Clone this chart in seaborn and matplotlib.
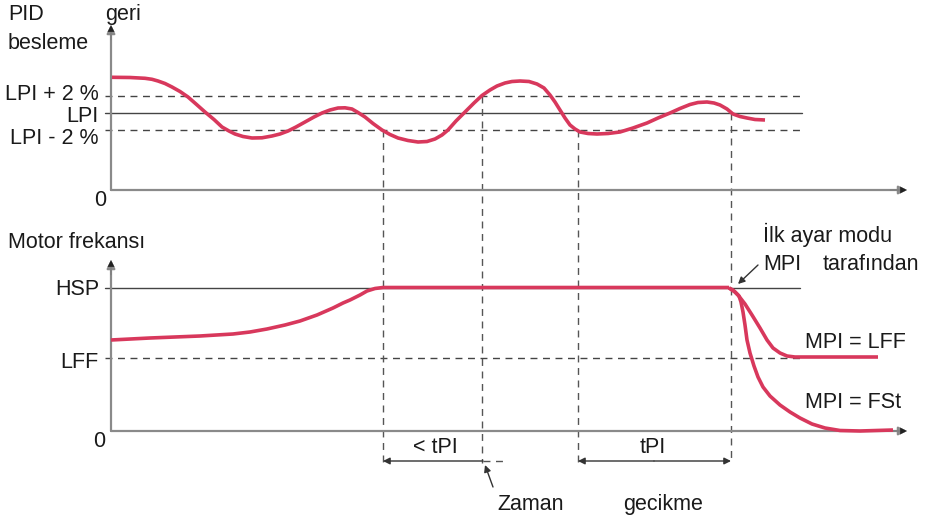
import matplotlib
matplotlib.use("Agg")
import matplotlib.pyplot as plt
import seaborn as sns
import pandas as pd

# ---- data (diagram units: x = time, y = level, figure-pixel scale) ----
top_t = [112, 130, 145, 152, 158, 165, 172, 180, 188, 196, 205, 214, 222, 229, 235, 243, 252, 262,
         272, 280, 288, 296, 305, 314, 322, 330, 338, 345, 352, 358, 365, 373, 382, 390, 398, 408,
         418, 427, 435, 442, 448, 456, 465, 474, 482, 490, 497, 505, 512, 520, 529, 537, 544, 550,
         555, 560, 565, 570, 575, 580, 588, 597, 608, 620, 633, 647, 658, 670, 680, 690, 698, 707,
         714, 720, 727, 733, 740, 747, 755, 765]
top_v = [77.3, 77.5, 78.3, 79.3, 81, 83.5, 87, 91.5, 97, 104, 112, 119.5, 127, 131, 134, 136.5, 138, 137.8,
         136, 134, 131, 127, 122, 117, 113, 110, 108, 107.8, 109, 112.5, 117, 123.5, 130, 134.5, 138, 140.5,
         142, 141.5, 139, 135, 130, 121, 112, 103, 95.5, 90, 86, 83, 81.5, 81, 81.5, 84, 88, 95,
         102, 110, 118, 125, 129, 132, 133.5, 134, 133.5, 132, 128, 123, 118, 113, 108.5, 104.5, 102.5, 102,
         103, 105, 109, 114, 116.5, 118, 119.5, 120]

motor_t = [111, 150, 200, 233, 250, 267, 285, 300, 317, 333, 343, 350, 360, 367, 375, 383, 400, 729]
motor_v = [340, 338, 336, 334, 332, 329, 325, 321, 315, 308, 303, 300, 295, 291, 288.5, 287.5, 287.5, 287.5]

lff_t = [729, 733, 738, 745, 752, 760, 767, 773, 780, 787, 795, 810, 878]
lff_v = [288, 290, 295, 304, 315, 328, 340, 348, 353, 356, 357, 357, 357]

fst_t = [729, 735, 739, 741, 743, 745, 747, 750, 754, 758, 763, 770, 780, 790, 800, 812, 825, 840, 860, 893]
fst_v = [288, 292, 296, 302, 312, 325, 340, 353, 366, 377, 387, 396, 405, 412, 418, 424, 428, 430.5, 431, 430]

top_level_names = ["LPI + 2 %", "LPI", "LPI - 2 %"]
top_level_vals = [96, 113, 130]
top_label_base = [100, 122, 144]
bottom_level_names = ["HSP", "LFF"]
bottom_level_vals = [288, 358]
event_t = [383, 482, 578, 731]
event_top = [130, 96, 130, 113]

RED = "#d8385c"
AX = "#8a8a8a"
LV = "#444444"
TXT = "#1a1a1a"

sns.set_theme(style="white")
plt.rcParams["font.family"] = ["Liberation Sans", "DejaVu Sans"]

fig = plt.figure(figsize=(9.25, 5.19), dpi=100)
ax = fig.add_axes([0, 0, 1, 1])


def arrow(x0, y0, x1, y1, color=AX, lw=1.6, style="-|>", ms=12):
    ax.annotate("", xy=(x1, y1), xytext=(x0, y0),
                arrowprops=dict(arrowstyle=style, color=color, lw=lw,
                                mutation_scale=ms, shrinkA=0, shrinkB=0))


# curves via seaborn
for tt, vv in [(top_t, top_v), (motor_t, motor_v), (lff_t, lff_v), (fst_t, fst_v)]:
    df = pd.DataFrame({"t": tt, "v": vv})
    sns.lineplot(data=df, x="t", y="v", sort=False, estimator=None, color=RED,
                 lw=2.6, ax=ax, solid_capstyle="butt", solid_joinstyle="round", zorder=5)
ax.set_xlim(0, 925)
ax.set_ylim(519, 0)
ax.axis("off")

# axes lines with arrows
arrow(111, 190, 907, 190)
arrow(111, 190, 111, 25)
arrow(111, 431, 907, 431)
arrow(111, 431, 111, 260)
for (x0, y0, x1, y1) in [(890, 190, 907, 190), (111, 40, 111, 25), (890, 431, 907, 431), (111, 275, 111, 260)]:
    arrow(x0, y0, x1, y1, color="#222222", lw=0.1, ms=12)

fs = 15.5
# level lines
for name, y, yb in zip(top_level_names, top_level_vals, top_label_base):
    ls = "-" if name == "LPI" else (0, (5, 4))
    ax.plot([105, 802], [y, y], color=LV, lw=1.0, ls=ls)
    ax.text(99, yb, name, ha="right", va="baseline", fontsize=fs, color=TXT)
ax.plot([105, 800], [bottom_level_vals[0]] * 2, color=LV, lw=1.0)
ax.plot([105, 800], [bottom_level_vals[1]] * 2, color=LV, lw=1.0, ls=(0, (5, 4)))
ax.text(99, 295, bottom_level_names[0], ha="right", va="baseline", fontsize=fs, color=TXT)
ax.text(99, 368, bottom_level_names[1], ha="right", va="baseline", fontsize=fs, color=TXT)

# vertical event lines
for t, y0 in zip(event_t, event_top):
    ax.plot([t, t], [y0, 463], color="#555555", lw=1.0, ls=(0, (5, 4)))

# dimension arrows
arrow(483, 461, 383, 461, color="#333333", lw=1.0, style="-|>", ms=10)
ax.plot([483, 507], [461, 461], color="#555555", lw=1.0, ls=(0, (5, 4)))
arrow(654, 461, 578, 461, color="#333333", lw=1.0, style="-|>", ms=10)
arrow(654, 461, 731, 461, color="#333333", lw=1.0, style="-|>", ms=10)
arrow(493, 487, 485, 465, color="#333333", lw=1.0, style="-|>", ms=10)
arrow(758, 265, 738, 284, color="#333333", lw=1.0, style="-|>", ms=10)

ax.text(8, 20, "PID", fontsize=fs, color=TXT, va="baseline")
ax.text(8, 49, "besleme", fontsize=fs, color=TXT, va="baseline")
ax.text(105, 20, "geri", fontsize=fs, color=TXT, va="baseline")
ax.text(100, 206, "0", fontsize=fs, color=TXT, va="baseline", ha="center")
ax.text(8, 248, "Motor frekansı", fontsize=fs, color=TXT, va="baseline")
ax.text(99, 447, "0", fontsize=fs, color=TXT, va="baseline", ha="center")
ax.text(435, 453, "< tPI", fontsize=fs, color=TXT, va="baseline", ha="center")
ax.text(653, 453, "tPI", fontsize=fs, color=TXT, va="baseline", ha="center")
ax.text(497, 510, "Zaman", fontsize=fs, color=TXT, va="baseline")
ax.text(623, 510, "gecikme", fontsize=fs, color=TXT, va="baseline")
ax.text(763, 242, "İlk ayar modu", fontsize=fs, color=TXT, va="baseline")
ax.text(763, 270, "MPI", fontsize=fs, color=TXT, va="baseline")
ax.text(823, 270, "tarafından", fontsize=fs, color=TXT, va="baseline")
ax.text(805, 348, "MPI = LFF", fontsize=fs, color=TXT, va="baseline")
ax.text(805, 408, "MPI = FSt", fontsize=fs, color=TXT, va="baseline")

fig.savefig("out.png", dpi=100)
